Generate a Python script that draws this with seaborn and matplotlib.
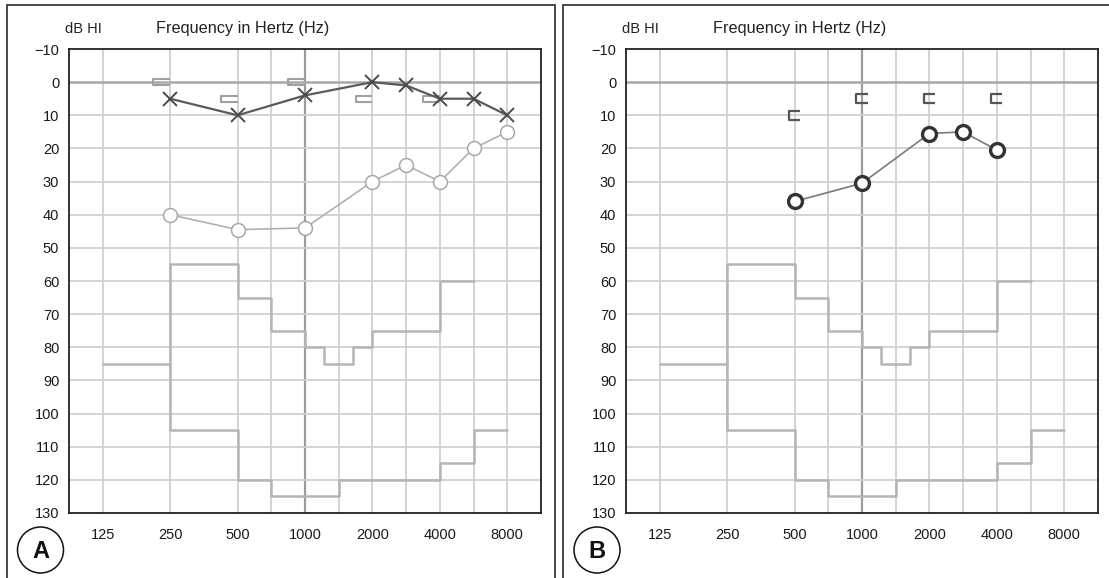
import numpy as np
import pandas as pd
import matplotlib
matplotlib.use("Agg")
import matplotlib.pyplot as plt
from matplotlib.path import Path
from matplotlib.patches import Rectangle, Ellipse
import seaborn as sns

# ---------------- data ----------------
freq_ticks = [125, 250, 500, 1000, 2000, 4000, 8000]
freq_grid = [125, 250, 500, 750, 1000, 1500, 2000, 3000, 4000, 6000, 8000]
db_ticks = list(range(-10, 131, 10))

# panel A
a_left_freq = [250, 500, 1000, 2000, 3000, 4000, 6000, 8000]
a_left_db = [5, 10, 4, 0, 1, 5, 5, 10]
a_right_freq = [250, 500, 1000, 2000, 3000, 4000, 6000, 8000]
a_right_db = [40, 44.5, 44, 30, 25, 30, 20, 15]
a_bone_freq = [250, 500, 1000, 2000, 4000]
a_bone_db = [0, 5, 0, 5, 5]

# panel B
b_right_freq = [500, 1000, 2000, 3000, 4000]
b_right_db = [36, 30.5, 15.5, 15, 20.5]
b_bone_freq = [500, 1000, 2000, 4000]
b_bone_db = [10, 5, 5, 5]

# audiometer limit steps (same on both panels)
low_freq = [125, 250]
low_db = [85, 85]
upper_freq = [250, 500, 750, 1000, 1250, 1700, 2000, 4000, 6000]
upper_db = [55, 65, 75, 80, 85, 80, 75, 60, 60]
lower_freq = [250, 500, 750, 1500, 4000, 6000, 8000]
lower_db = [105, 120, 125, 120, 115, 105, 105]

# ---------------- audiogram frequency scale ----------------
_anchor_f = np.log2([125 / np.sqrt(2) / 4, 125, 250, 500, 750, 1000, 1500, 2000,
                     3000, 4000, 6000, 8000, 8000 * np.sqrt(2) * 4])
_anchor_p = np.array([-2.5, 0, 1, 2, 2.5, 3, 3.5, 4, 4.5, 5, 5.5, 6, 8.5])


def fwd(f):
    f = np.asarray(f, dtype=float)
    return np.interp(np.log2(np.clip(f, 1e-3, None)), _anchor_f, _anchor_p)


def inv(p):
    p = np.asarray(p, dtype=float)
    return 2 ** np.interp(p, _anchor_p, _anchor_f)


# ---------------- style ----------------
sns.set_theme(style="white")
plt.rcParams['font.family'] = ['Liberation Sans', 'DejaVu Sans']

W, H = 1109, 578
fig = plt.figure(figsize=(W / 100, H / 100), dpi=100)

# outer frames
for x0, x1 in [(7, 555), (563, 1120)]:
    fig.add_artist(Rectangle((x0 / W, -0.05), (x1 - x0) / W, (H - 5) / H + 0.05,
                             transform=fig.transFigure, fill=False,
                             edgecolor="#3a3a3a", lw=1.3))

bone_verts_a = [(0, 0.35), (-2, 0.35), (-2, -0.35), (0, -0.35)]
bone_path_a = Path(bone_verts_a, [Path.MOVETO, Path.LINETO, Path.LINETO, Path.LINETO])
bone_verts_b = [(1, 0.8), (-1, 0.8), (-1, -0.8), (1, -0.8)]
bone_path_b = Path(bone_verts_b, [Path.MOVETO, Path.LINETO, Path.LINETO, Path.LINETO])


def setup(ax, label, lab_x):
    ax.set_xscale('function', functions=(fwd, inv))
    ax.set_xlim(125 / np.sqrt(2), 8000 * np.sqrt(2))
    ax.set_ylim(130, -10)
    ax.set_xticks(freq_ticks)
    ax.set_xticklabels([str(f) for f in freq_ticks])
    ax.set_yticks(db_ticks)
    ax.set_yticklabels(["\u221210" if v < 0 else str(v) for v in db_ticks])
    ax.xaxis.set_minor_locator(matplotlib.ticker.NullLocator())
    ax.tick_params(axis='x', length=0, pad=11, labelsize=10.5, colors="#1a1a1a")
    ax.tick_params(axis='y', length=0, pad=7, labelsize=10.5, colors="#1a1a1a")
    for v in freq_grid:
        ax.axvline(v, color="#9c9c9c" if v == 1000 else "#d0d0d0",
                   lw=1.6 if v == 1000 else 1.3, zorder=0)
    for v in db_ticks[1:-1]:
        ax.axhline(v, color="#a8a8a8" if v == 0 else "#d0d0d0",
                   lw=1.8 if v == 0 else 1.3, zorder=0)
    for s in ax.spines.values():
        s.set_color("#222")
        s.set_linewidth(1.3)
    # limit steps
    sc = "#b5b5b5"
    ax.step(low_freq, low_db, where='post', color=sc, lw=1.8, zorder=1)
    ax.step(upper_freq, upper_db, where='post', color=sc, lw=1.8, zorder=1)
    ax.step(lower_freq, lower_db, where='post', color=sc, lw=1.8, zorder=1)
    ax.vlines(upper_freq[0], upper_db[0], lower_db[0], color=sc, lw=1.8, zorder=1)
    # header text
    ax.text(-0.009, 1.0345, "dB HI", transform=ax.transAxes, fontsize=10.5,
            ha='left', va='baseline', color="#222")
    ax.text(0.185, 1.0345, "Frequency in Hertz (Hz)", transform=ax.transAxes,
            fontsize=11.7, ha='left', va='baseline', color="#222")
    # panel letter
    fig.add_artist(Ellipse((lab_x / W, 1 - 550 / H), 46 / W, 46 / H,
                           transform=fig.transFigure, fill=False,
                           edgecolor="#111", lw=1.1))
    fig.text(lab_x / W, 1 - 551 / H, label, ha='center', va='center',
             fontsize=17, fontweight='bold', color="#111")


axA = fig.add_axes([69 / W, 1 - 513 / H, 472 / W, 464 / H])
axB = fig.add_axes([626 / W, 1 - 513 / H, 472 / W, 464 / H])
setup(axA, "A", 40.5)
setup(axB, "B", 597)

dfAL = pd.DataFrame({"f": a_left_freq, "db": a_left_db})
dfAR = pd.DataFrame({"f": a_right_freq, "db": a_right_db})
dfAB = pd.DataFrame({"f": a_bone_freq, "db": a_bone_db})
dfBR = pd.DataFrame({"f": b_right_freq, "db": b_right_db})
dfBB = pd.DataFrame({"f": b_bone_freq, "db": b_bone_db})

sns.lineplot(data=dfAL, x="f", y="db", ax=axA, color="#5a5a5a", lw=1.6,
             marker="x", markersize=10, markeredgewidth=1.4,
             markeredgecolor="#4a4a4a", zorder=4, sort=False)
sns.lineplot(data=dfAR, x="f", y="db", ax=axA, color="#b0b0b0", lw=1.2,
             marker="o", markersize=10, markerfacecolor="white",
             markeredgecolor="#a8a8a8", markeredgewidth=1.1, zorder=3, sort=False)
sns.scatterplot(data=dfAB, x="f", y="db", ax=axA, marker=bone_path_a, s=24 ** 2,
                facecolor="none", edgecolor="#a0a0a0", linewidth=1.5, zorder=3)

sns.lineplot(data=dfBR, x="f", y="db", ax=axB, color="#7a7a7a", lw=1.2,
             marker="o", markersize=10, markerfacecolor="white",
             markeredgecolor="#333333", markeredgewidth=2.4, zorder=4, sort=False)
sns.scatterplot(data=dfBB, x="f", y="db", ax=axB, marker=bone_path_b, s=8 ** 2,
                facecolor="none", edgecolor="#555555", linewidth=1.6, zorder=3)

for ax in (axA, axB):
    ax.set_xlabel("")
    ax.set_ylabel("")
    ax.set_xlim(125 / np.sqrt(2), 8000 * np.sqrt(2))
    ax.set_ylim(130, -10)

fig.savefig("out.png", dpi=100, facecolor="white")
